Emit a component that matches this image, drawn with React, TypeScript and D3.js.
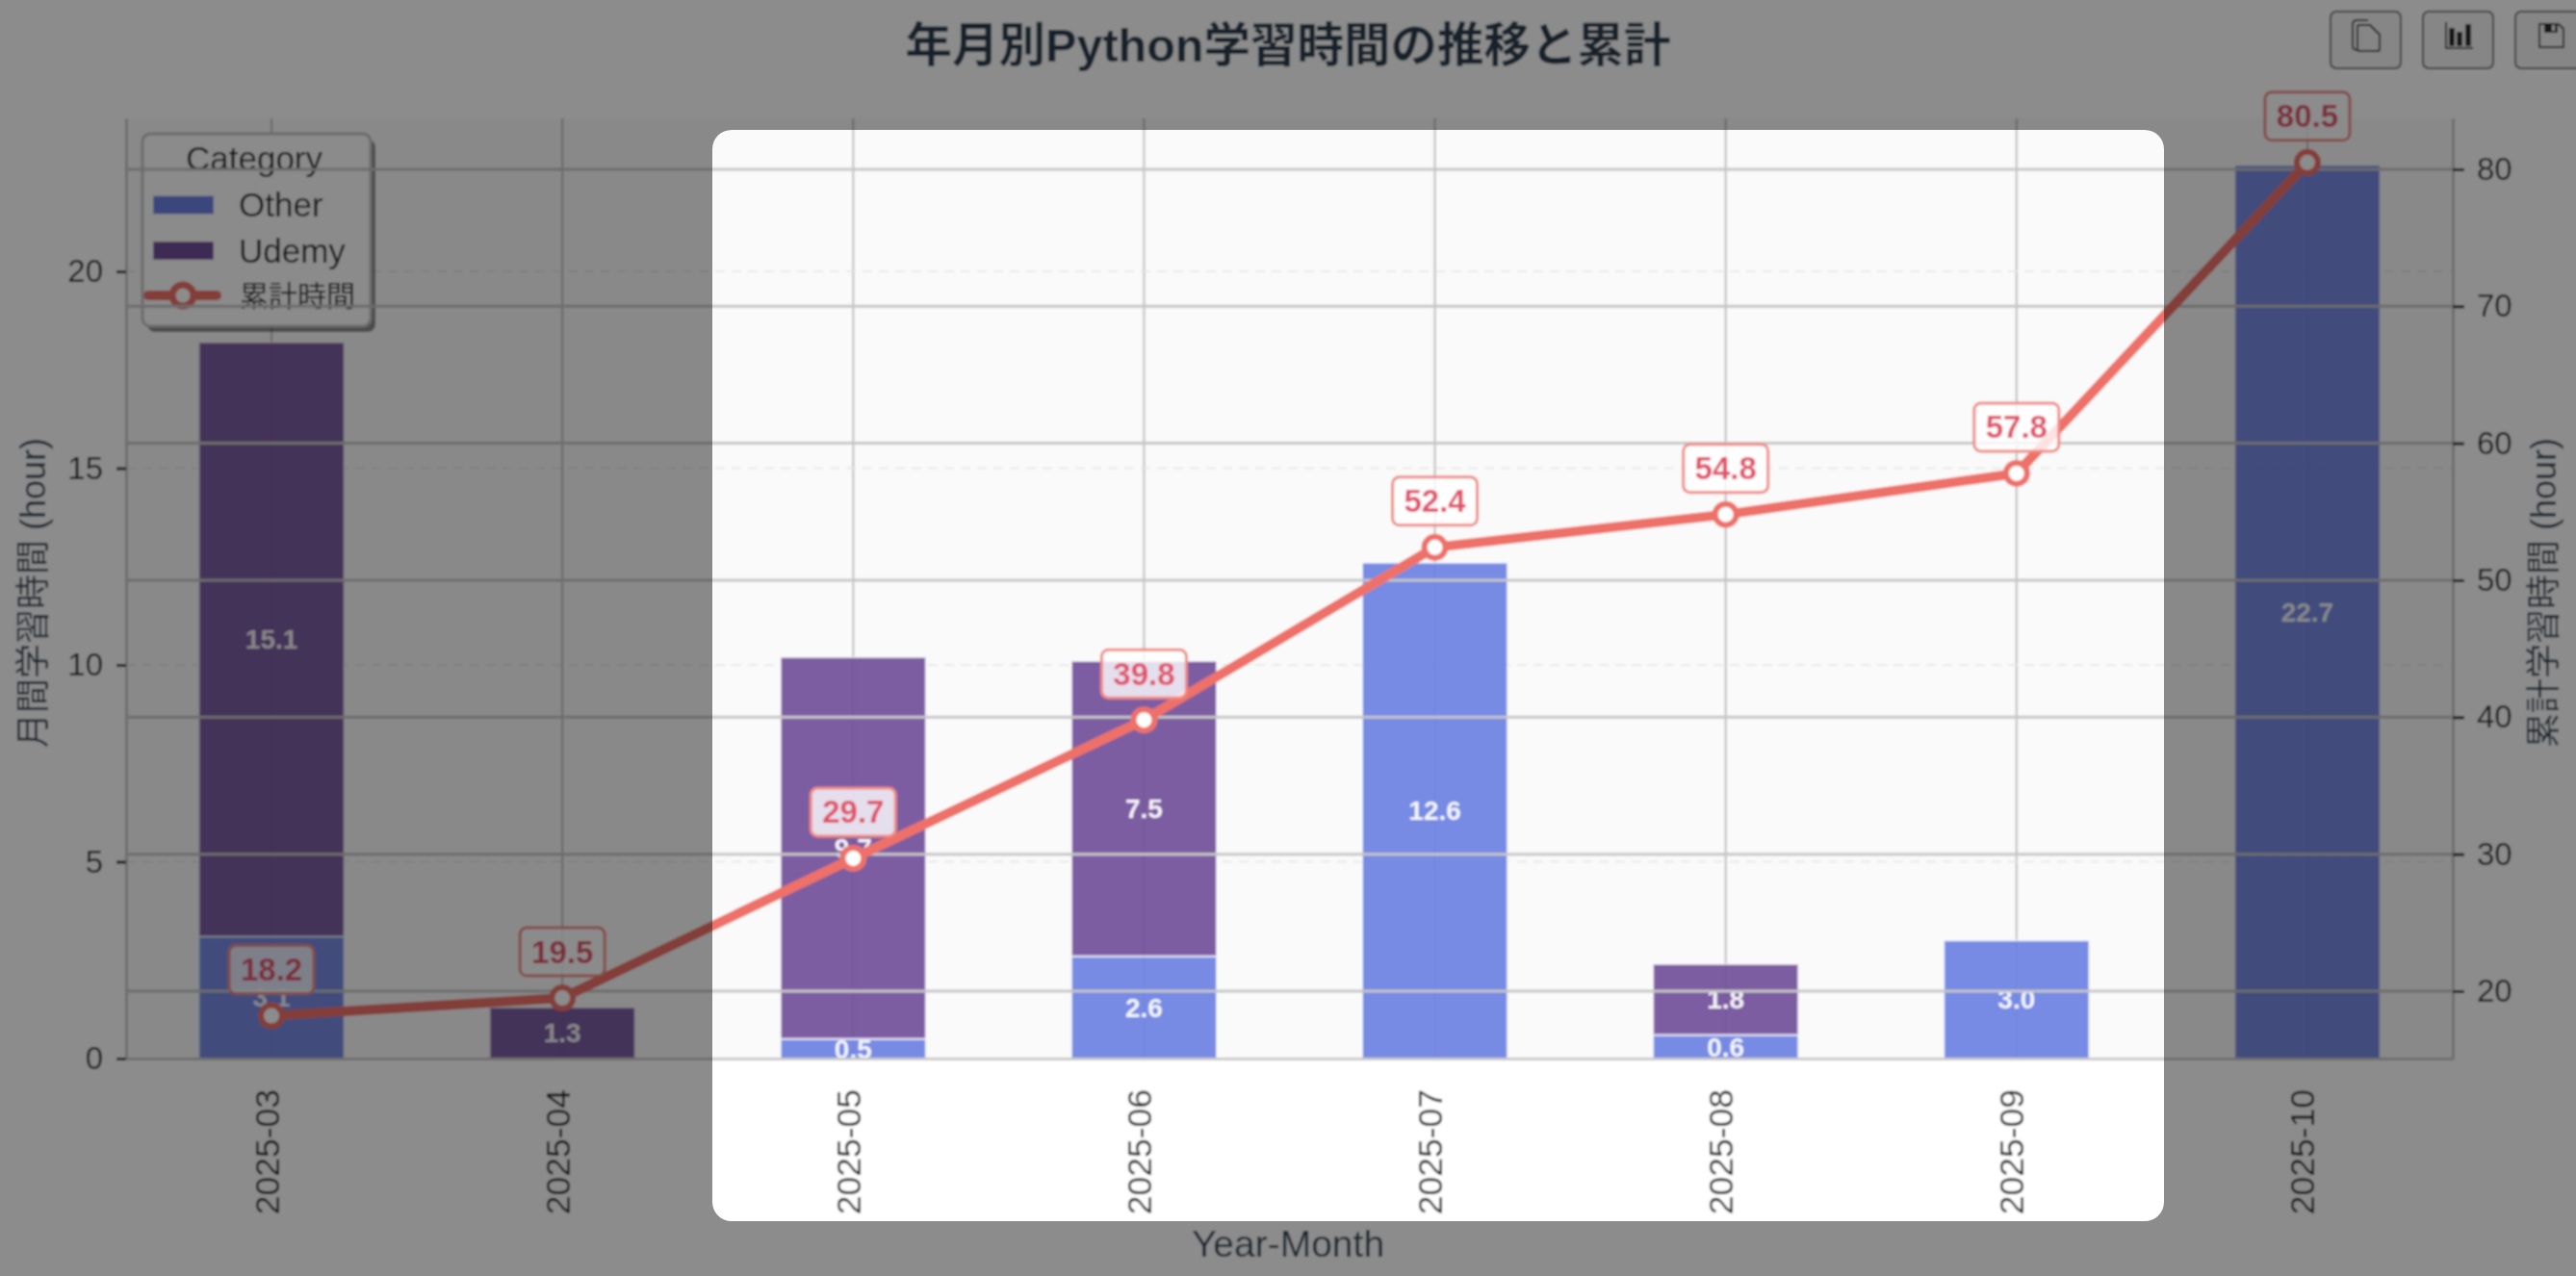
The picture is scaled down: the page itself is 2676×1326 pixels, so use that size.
import { useEffect, useRef } from "react";
import * as d3 from "d3";

const months = ["2025-03", "2025-04", "2025-05", "2025-06", "2025-07", "2025-08", "2025-09", "2025-10"];
const otherHours = [3.1, 0, 0.5, 2.6, 12.6, 0.6, 3.0, 22.7];
const udemyHours = [15.1, 1.3, 9.7, 7.5, 0, 1.8, 0, 0];
const cumulativeHours = [18.2, 19.5, 29.7, 39.8, 52.4, 54.8, 57.8, 80.5];
const leftTicks = [0, 5, 10, 15, 20];
const rightTicks = [20, 30, 40, 50, 60, 70, 80];
const categories = ["Other", "Udemy"];

const FONT = '"Liberation Sans", "Noto Sans CJK JP", sans-serif';
const W = 2676;
const H = 1326;
const colors: Record<string, string> = { Other: "#6b80e2", Udemy: "#724f9a" };

export default function App() {
  const svgRef = useRef<SVGSVGElement | null>(null);

  useEffect(() => {
    const root = d3.select(svgRef.current);
    root.selectAll("*").remove(); // clean before drawing
    root.style("font-family", FONT);

    // the source screenshot is soft, so everything below the overlay gets a light blur
    root
      .append("defs")
      .append("filter")
      .attr("id", "soft")
      .attr("filterUnits", "userSpaceOnUse")
      .attr("x", 0)
      .attr("y", 0)
      .attr("width", W)
      .attr("height", H)
      .append("feGaussianBlur")
      .attr("stdDeviation", 0.8);

    const svg = root.append("g").attr("filter", "url(#soft)");

    const left = 131;
    const right = 2548;
    const top = 123;
    const bottom = 1100;

    const x = d3.scaleBand<string>().domain(months).range([left, right]).paddingInner(0.5).paddingOuter(0.25);
    const cx = (m: string) => (x(m) as number) + x.bandwidth() / 2;
    const y = d3.scaleLinear().domain([0, 23.89]).range([bottom, top]);
    const y2 = d3.scaleLinear().domain([15.08, 83.72]).range([bottom, top]);

    svg.append("rect").attr("width", W).attr("height", H).attr("fill", "#fff");

    svg
      .append("text")
      .attr("x", 1338)
      .attr("y", 47)
      .attr("dy", ".35em")
      .attr("text-anchor", "middle")
      .attr("font-size", 48.5)
      .attr("font-weight", "bold")
      .attr("fill", "#2c3e50")
      .text("年月別Python学習時間の推移と累計");

    svg.append("rect").attr("x", left).attr("y", top).attr("width", right - left).attr("height", bottom - top).attr("fill", "#fafafa");

    // grid below the bars
    svg
      .append("g")
      .selectAll("line")
      .data(months)
      .join("line")
      .attr("x1", cx)
      .attr("x2", cx)
      .attr("y1", top)
      .attr("y2", bottom)
      .attr("stroke", "#bcbcbc")
      .attr("stroke-width", 2);

    svg
      .append("g")
      .selectAll("line")
      .data(leftTicks.slice(1))
      .join("line")
      .attr("x1", left)
      .attr("x2", right)
      .attr("y1", (d) => y(d))
      .attr("y2", (d) => y(d))
      .attr("stroke", "#e4e4e4")
      .attr("stroke-width", 1.5)
      .attr("stroke-dasharray", "10 7");

    // stacked bars
    const rows = months.map((m, i) => ({ month: m, Other: otherHours[i], Udemy: udemyHours[i] }));
    const stacked = d3.stack<any>().keys(categories)(rows);

    stacked.forEach((layer) => {
      const g = svg.append("g");
      const present = layer.filter((d) => d[1] - d[0] > 0);
      g.selectAll("rect")
        .data(present)
        .join("rect")
        .attr("x", (d) => x(d.data.month) as number)
        .attr("width", x.bandwidth())
        .attr("y", (d) => y(d[1]))
        .attr("height", (d) => y(d[0]) - y(d[1]))
        .attr("fill", colors[layer.key])
        .attr("fill-opacity", 0.92)
        .attr("stroke", "#fff")
        .attr("stroke-opacity", 0.7)
        .attr("stroke-width", 2);
      g.selectAll("text")
        .data(present)
        .join("text")
        .attr("x", (d) => cx(d.data.month))
        .attr("y", (d) => y((d[0] + d[1]) / 2))
        .attr("dy", ".35em")
        .attr("text-anchor", "middle")
        .attr("font-size", 28)
        .attr("font-weight", "bold")
        .attr("fill", "#fff")
        .attr("fill-opacity", 0.92)
        .text((d) => (d[1] - d[0]).toFixed(1));
    });

    // legend
    const legend = svg.append("g");
    legend.append("rect").attr("x", 153).attr("y", 145).attr("width", 237).attr("height", 200).attr("rx", 8).attr("fill", "#000").attr("fill-opacity", 0.45);
    legend.append("rect").attr("x", 148).attr("y", 139).attr("width", 237).attr("height", 200).attr("rx", 8).attr("fill", "#fdfdfd").attr("stroke", "#c4c4c4").attr("stroke-width", 3);
    legend.append("text").attr("x", 264).attr("y", 165).attr("dy", ".35em").attr("text-anchor", "middle").attr("font-size", 35).attr("fill", "#1f1f1f").text("Category");
    categories.forEach((c, i) => {
      const ly = 213 + i * 47.5;
      legend.append("rect").attr("x", 159).attr("y", ly - 9.5).attr("width", 63).attr("height", 19).attr("fill", colors[c]).attr("stroke", "#fff").attr("stroke-opacity", 0.4).attr("stroke-width", 1.5);
      legend.append("text").attr("x", 248).attr("y", ly).attr("dy", ".35em").attr("font-size", 35).attr("fill", "#1f1f1f").text(c);
    });
    legend.append("line").attr("x1", 154).attr("x2", 225).attr("y1", 307).attr("y2", 307).attr("stroke", "#ee7169").attr("stroke-width", 10).attr("stroke-linecap", "round");
    legend.append("circle").attr("cx", 190).attr("cy", 307).attr("r", 11).attr("fill", "#fff").attr("stroke", "#ee7169").attr("stroke-width", 7);
    legend.append("text").attr("x", 249).attr("y", 307).attr("dy", ".35em").attr("font-size", 30).attr("fill", "#1f1f1f").text("累計時間");

    // twin axis grid sits above the bars and the legend
    svg
      .append("g")
      .selectAll("line")
      .data(rightTicks)
      .join("line")
      .attr("x1", left)
      .attr("x2", right)
      .attr("y1", (d) => y2(d))
      .attr("y2", (d) => y2(d))
      .attr("stroke", "#c6c6c6")
      .attr("stroke-width", 3);

    // axes
    const axisLeft = svg.append("g").attr("transform", `translate(${left},0)`).call(d3.axisLeft(y).tickValues(leftTicks).tickSize(10).tickSizeOuter(0).tickPadding(14).tickFormat((d) => String(d)));
    const axisRight = svg.append("g").attr("transform", `translate(${right},0)`).call(d3.axisRight(y2).tickValues(rightTicks).tickSize(12).tickSizeOuter(0).tickPadding(13).tickFormat((d) => String(d)));
    const axisBottom = svg.append("g").attr("transform", `translate(0,${bottom})`).call(d3.axisBottom(x).tickSize(0));

    [axisLeft, axisRight, axisBottom].forEach((a) => {
      a.attr("font-family", FONT);
      a.select(".domain").attr("stroke", "#c9c9c9").attr("stroke-width", 3);
      a.selectAll("line").attr("stroke", "#222").attr("stroke-width", 3);
      a.selectAll("text").attr("fill", "#1f1f1f").attr("font-size", 33);
    });
    axisBottom
      .selectAll("text")
      .attr("font-size", 35.5)
      .attr("x", -32)
      .attr("y", 0)
      .attr("dy", ".35em")
      .attr("text-anchor", "end")
      .attr("transform", "translate(-5,0) rotate(-90)");

    svg.append("text").attr("x", 1338).attr("y", 1292).attr("dy", ".35em").attr("text-anchor", "middle").attr("font-size", 39).attr("fill", "#2f4256").text("Year-Month");
    svg.append("text").attr("transform", "translate(34,616) rotate(-90)").attr("dy", ".35em").attr("text-anchor", "middle").attr("font-size", 36).attr("fill", "#2f4256").text("月間学習時間 (hour)");
    svg.append("text").attr("transform", "translate(2642,616) rotate(-90)").attr("dy", ".35em").attr("text-anchor", "middle").attr("font-size", 36).attr("fill", "#2f4256").text("累計学習時間 (hour)");

    // cumulative line
    const line = d3
      .line<number>()
      .x((_, i) => cx(months[i]))
      .y((d) => y2(d));

    svg.append("path").datum(cumulativeHours).attr("fill", "none").attr("stroke", "#ee7169").attr("stroke-width", 10).attr("d", line);

    svg
      .append("g")
      .selectAll("circle")
      .data(cumulativeHours)
      .join("circle")
      .attr("cx", (_, i) => cx(months[i]))
      .attr("cy", (d) => y2(d))
      .attr("r", 11)
      .attr("fill", "#fff")
      .attr("stroke", "#ee7169")
      .attr("stroke-width", 6);

    const tags = svg
      .append("g")
      .selectAll("g")
      .data(cumulativeHours)
      .join("g")
      .attr("transform", (d, i) => `translate(${cx(months[i])},${y2(d) - 48})`);
    tags.append("rect").attr("x", -44).attr("y", -25).attr("width", 88).attr("height", 50).attr("rx", 7).attr("fill", "#fff").attr("fill-opacity", 0.8).attr("stroke", "#f08a83").attr("stroke-width", 3);
    tags.append("text").attr("dy", ".35em").attr("text-anchor", "middle").attr("font-size", 33).attr("font-weight", "bold").attr("fill", "#e0526a").text((d) => d.toFixed(1));

    // toolbar buttons
    const buttons = svg.append("g").selectAll("g").data([2420, 2516, 2612]).join("g").attr("transform", (d) => `translate(${d},11)`);
    buttons.append("rect").attr("x", 1).attr("y", 1).attr("width", 73).attr("height", 59).attr("rx", 6).attr("fill", "#f4f4f4").attr("stroke", "#6a6a6a").attr("stroke-width", 2);
    const iconStroke = "#2c2c2c";
    const copyIcon = buttons.filter((_, i) => i === 0);
    copyIcon.append("path").attr("d", "M31 15h11l10 10v15a2 2 0 0 1-2 2H31a2 2 0 0 1-2-2V17a2 2 0 0 1 2-2z").attr("fill", "none").attr("stroke", iconStroke).attr("stroke-width", 2);
    copyIcon.append("path").attr("d", "M40 10H28a4 4 0 0 0-4 4v23a4 4 0 0 0 4 4").attr("fill", "none").attr("stroke", iconStroke).attr("stroke-width", 2);
    const barIcon = buttons.filter((_, i) => i === 1);
    barIcon.append("path").attr("d", "M25 12v27h28").attr("fill", "none").attr("stroke", iconStroke).attr("stroke-width", 2);
    barIcon.append("path").attr("d", "M28 18h6v19h-6zM36 22h6v15h-6zM45 14h6v23h-6z").attr("fill", iconStroke);
    const saveIcon = buttons.filter((_, i) => i === 2);
    saveIcon.append("path").attr("d", "M26 14h20l5 5v19H26z").attr("fill", "none").attr("stroke", iconStroke).attr("stroke-width", 2);
    saveIcon.append("path").attr("d", "M31 14h14v9H31z").attr("fill", iconStroke);
    saveIcon.append("path").attr("d", "M39 15h3v6h-3z").attr("fill", "#f4f4f4");

    // dim overlay with the highlighted cut-out
    const hole = d3.path();
    const hx0 = 740;
    const hx1 = 2248;
    const hy0 = 135;
    const hy1 = 1269;
    const r = 20;
    hole.moveTo(hx0 + r, hy0);
    hole.arcTo(hx1, hy0, hx1, hy1, r);
    hole.arcTo(hx1, hy1, hx0, hy1, r);
    hole.arcTo(hx0, hy1, hx0, hy0, r);
    hole.arcTo(hx0, hy0, hx1, hy0, r);
    hole.closePath();
    root
      .append("path")
      .attr("d", `M0 0H${W}V${H}H0Z${hole.toString()}`)
      .attr("fill", "#000")
      .attr("fill-opacity", 0.45)
      .attr("fill-rule", "evenodd");
  }, []);

  return <svg ref={svgRef} width={W} height={H} style={{ position: "absolute", left: 0, top: 0, display: "block" }} />;
}
